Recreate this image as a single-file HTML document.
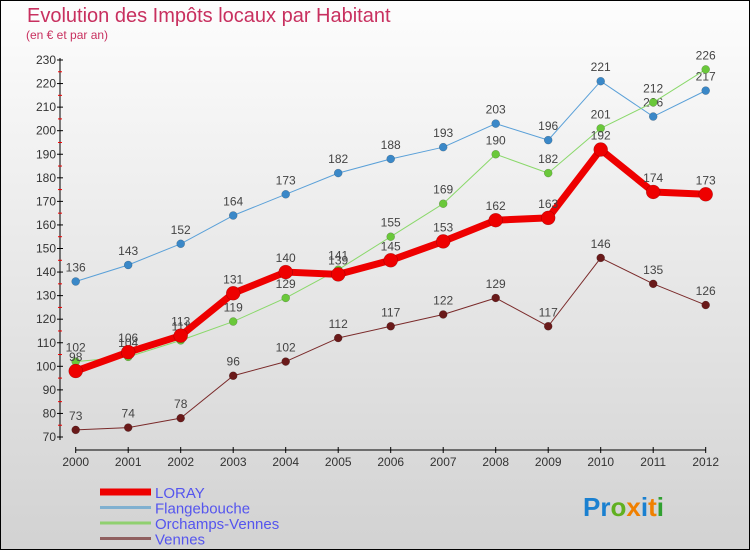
<!DOCTYPE html>
<html><head><meta charset="utf-8"><style>
body{margin:0;width:750px;height:550px;overflow:hidden;font-family:"Liberation Sans",sans-serif}
#c{position:absolute;left:0;top:0;width:748px;height:548px;border:1px solid #000;background:linear-gradient(#fdfdfd,#d2d2d2)}
</style></head><body>
<div id="c"></div>
<svg id="s" width="750" height="550" style="position:absolute;left:0;top:0"></svg>
<script>
const years=[2000,2001,2002,2003,2004,2005,2006,2007,2008,2009,2010,2011,2012];
const loray=[98,106,113,131,140,139,145,153,162,163,192,174,173];
const flange=[136,143,152,164,173,182,188,193,203,196,221,206,217];
const orch=[102,104,111,119,129,141,155,169,190,182,201,212,226];
const vennes=[73,74,78,96,102,112,117,122,129,117,146,135,126];
const yTicks=[70,80,90,100,110,120,130,140,150,160,170,180,190,200,210,220,230];
const NS='http://www.w3.org/2000/svg',s=document.getElementById('s');
const X=i=>75.7+i*(705.7-75.7)/12, Y=v=>60+(230-v)*(437-60)/160;
function el(t,a,p){const e=document.createElementNS(NS,t);for(const k in a)e.setAttribute(k,a[k]);(p||s).appendChild(e);return e;}
let t=el('text',{x:27,y:22,'font-size':20,fill:'#c8305f'});t.textContent='Evolution des Impôts locaux par Habitant';

t=el('text',{x:26,y:39,'font-size':12,fill:'#c8305f'});t.textContent='(en € et par an)';

let ax=el('line',{x1:60,y1:58,x2:60,y2:440,stroke:'#000'});

yTicks.forEach(v=>{el('line',{x1:57,y1:Y(v),x2:63,y2:Y(v),stroke:'#000'});
if(v<230)el('line',{x1:58,y1:Y(v+5),x2:62,y2:Y(v+5),stroke:'#e00'});
const l=el('text',{x:56,y:Y(v)+4,'font-size':12,fill:'#333','text-anchor':'end'});l.textContent=v;
});
ax=el('line',{x1:75.7,y1:450,x2:705.7,y2:450,stroke:'#000'});

years.forEach((y,i)=>{el('line',{x1:X(i),y1:447,x2:X(i),y2:453,stroke:'#000'});
const l=el('text',{x:X(i),y:466,'font-size':12,fill:'#333','text-anchor':'middle'});l.textContent=y;
});
function series(d,col,w,r,name,dot){
const g=el('g',{});
el('polyline',{points:d.map((v,i)=>X(i)+','+Y(v)).join(' '),fill:'none',stroke:col,'stroke-width':w,'stroke-linejoin':'round'},g);
d.forEach((v,i)=>{const c=el('circle',{cx:X(i),cy:Y(v),r:r,fill:dot||col,stroke:'rgba(0,0,0,0.3)','stroke-width':0.5},g);

const l=el('text',{x:X(i),y:Y(v)-10,'font-size':12,fill:'#444','text-anchor':'middle'},g);l.textContent=v;
});}
series(vennes,'#7a2a2a',1,4,'vennes','#6a1a1a');
series(flange,'#5aa0d8',1,4,'flangebouche','#3a88c8');
series(orch,'#8ad86a',1,4,'orchamps-vennes','#6ac83a');
series(loray,'#ee0000',7,7,'loray');
const leg=[['LORAY','#ee0000',7],['Flangebouche','#80b0d0',3],['Orchamps-Vennes','#90d070',3],['Vennes','#906060',3]];
leg.forEach((L,i)=>{const y=492+i*15.5;const g=el('g',{});

el('line',{x1:100,y1:y,x2:151,y2:y,stroke:L[1],'stroke-width':L[2]},g);
const l=el('text',{x:155,y:y+6,'font-size':15,fill:'#5555ee'},g);l.textContent=L[0];});
const p=el('text',{x:583,y:516,'font-size':26,'font-weight':'bold'});

[['Pr','#1a80d0'],['o','#60b020'],['x','#f08000'],['i','#1a80d0'],['t','#f08000'],['i','#30a030']].forEach(a=>{const ts=el('tspan',{fill:a[1]},p);ts.textContent=a[0];});
</script>
</body></html>
